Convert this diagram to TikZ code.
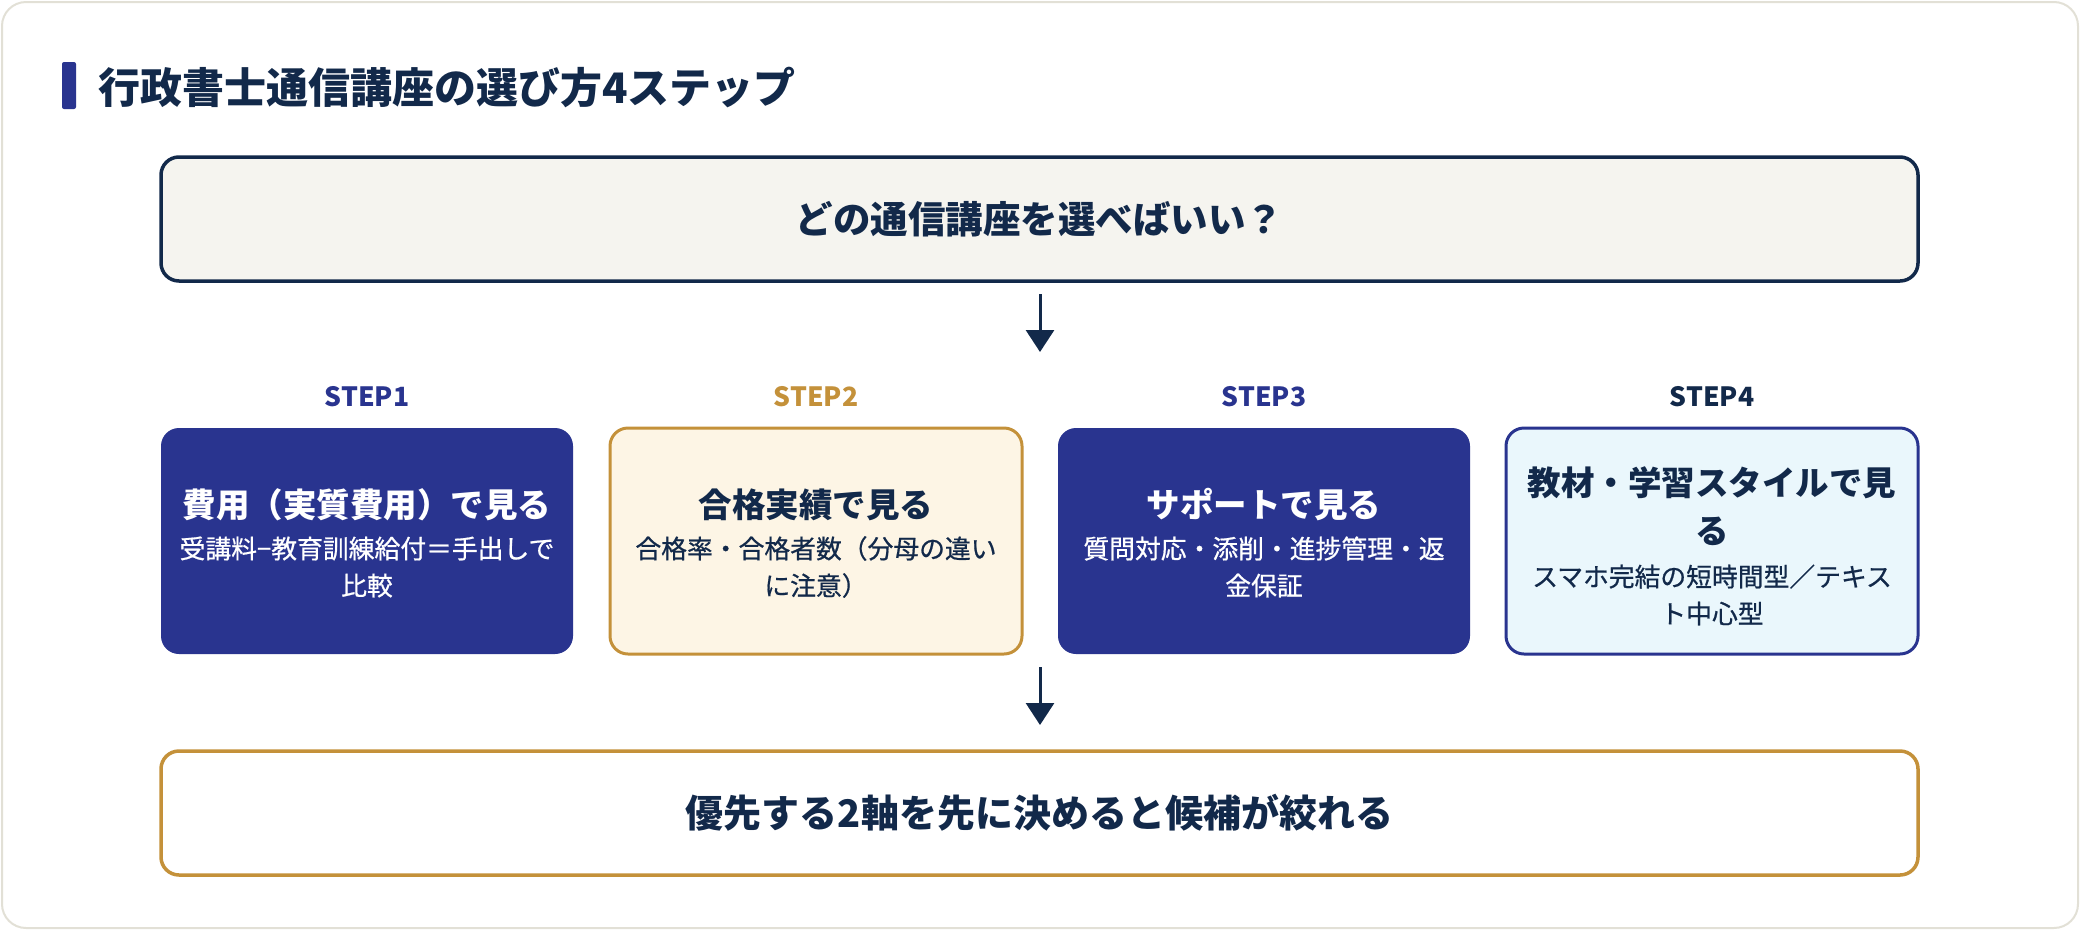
\documentclass[tikz,border=0pt]{standalone}
\usepackage{fontspec}
\setmainfont{Noto Sans CJK JP}
\newfontfamily\medjp{Noto Sans CJK JP}[FakeBold=0.7]
\usetikzlibrary{arrows.meta}
\definecolor{navy}{HTML}{12294A}
\definecolor{indigo}{HTML}{29348F}
\definecolor{gold}{HTML}{C4913A}
\definecolor{creamfill}{HTML}{FDF5E5}
\definecolor{skyfill}{HTML}{EAF7FC}
\definecolor{qfill}{HTML}{F5F4EF}
\definecolor{cardline}{HTML}{E2E0D6}
\tikzset{
  fs/.style 2 args={font=\fontsize{#1pt}{#2pt}\selectfont\bfseries},
  fr/.style 2 args={font=\fontsize{#1pt}{#2pt}\selectfont\medjp},
  bigbox/.style={draw, line width=3.5pt, rounded corners=18pt, minimum width=1757pt, minimum height=124pt, inner sep=0pt},
  stepbox/.style={rounded corners=18pt, minimum width=412pt, minimum height=226pt, inner sep=0pt},
  steplabel/.style={fs={26.5}{30}},
  ttl/.style={fs={33.5}{48}, align=center},
  sub/.style={fr={25.8}{37}, align=center},
  conn/.style={draw=navy, line width=3pt, -{Triangle[length=22pt,width=28pt]}},
}
\begin{document}
\begin{tikzpicture}[x=1pt,y=-1pt]
\useasboundingbox (0,0) rectangle (2080,930);
\draw[cardline, line width=2pt, fill=white, rounded corners=24pt] (2,2) rectangle (2078,928);
% title
\fill[indigo, rounded corners=2pt] (62,62) rectangle (76,109);
\node[anchor=west, text=navy, fs={42}{48}, inner sep=0pt] (title) at (98,87) {行政書士通信講座の選び方4ステップ};
% question box
\node[bigbox, draw=navy, fill=qfill, text=navy, fs={37.5}{42}] (q) at (1039.5,219) {どの通信講座を選べばいい？};
% step labels
\node[steplabel, text=indigo] (l1) at (367,397) {STEP1};
\node[steplabel, text=gold] (l2) at (816,397) {STEP2};
\node[steplabel, text=indigo] (l3) at (1264,397) {STEP3};
\node[steplabel, text=navy] (l4) at (1712,397) {STEP4};
% step boxes
\node[stepbox, fill=indigo] (s1) at (367,541) {};
\node[stepbox, draw=gold, line width=3pt, fill=creamfill] (s2) at (816,541) {};
\node[stepbox, fill=indigo] (s3) at (1264,541) {};
\node[stepbox, draw=indigo, line width=3pt, fill=skyfill] (s4) at (1712,541) {};
% step texts
\node[ttl, text=white] (t1) at (367,505) {費用（実質費用）で見る};
\node[sub, text=white] (d1) at (367,567) {受講料−教育訓練給付＝手出しで\\比較};
\node[ttl, text=navy] (t2) at (816,505) {合格実績で見る};
\node[sub, text=navy] (d2) at (816,567) {合格率・合格者数（分母の違い\\に注意）};
\node[ttl, text=white] (t3) at (1264,505) {サポートで見る};
\node[sub, text=white] (d3) at (1264,567) {質問対応・添削・進捗管理・返\\金保証};
\node[ttl, text=navy] (t4) at (1712,506) {教材・学習スタイルで見\\る};
\node[sub, text=navy] (d4) at (1712,595) {スマホ完結の短時間型／テキス\\ト中心型};
% bottom box
\node[bigbox, draw=gold, fill=white, text=navy, fs={38}{42}] (r) at (1039.5,813) {優先する2軸を先に決めると候補が絞れる};
% arrows
\coordinate (a1s) at (1040,294);
\coordinate (a1e) at (1040,352);
\coordinate (a2s) at (1040,667);
\coordinate (a2e) at (1040,725);
\draw[conn] (a1s) -- (a1e);
\draw[conn] (a2s) -- (a2e);
\end{tikzpicture}
\end{document}
